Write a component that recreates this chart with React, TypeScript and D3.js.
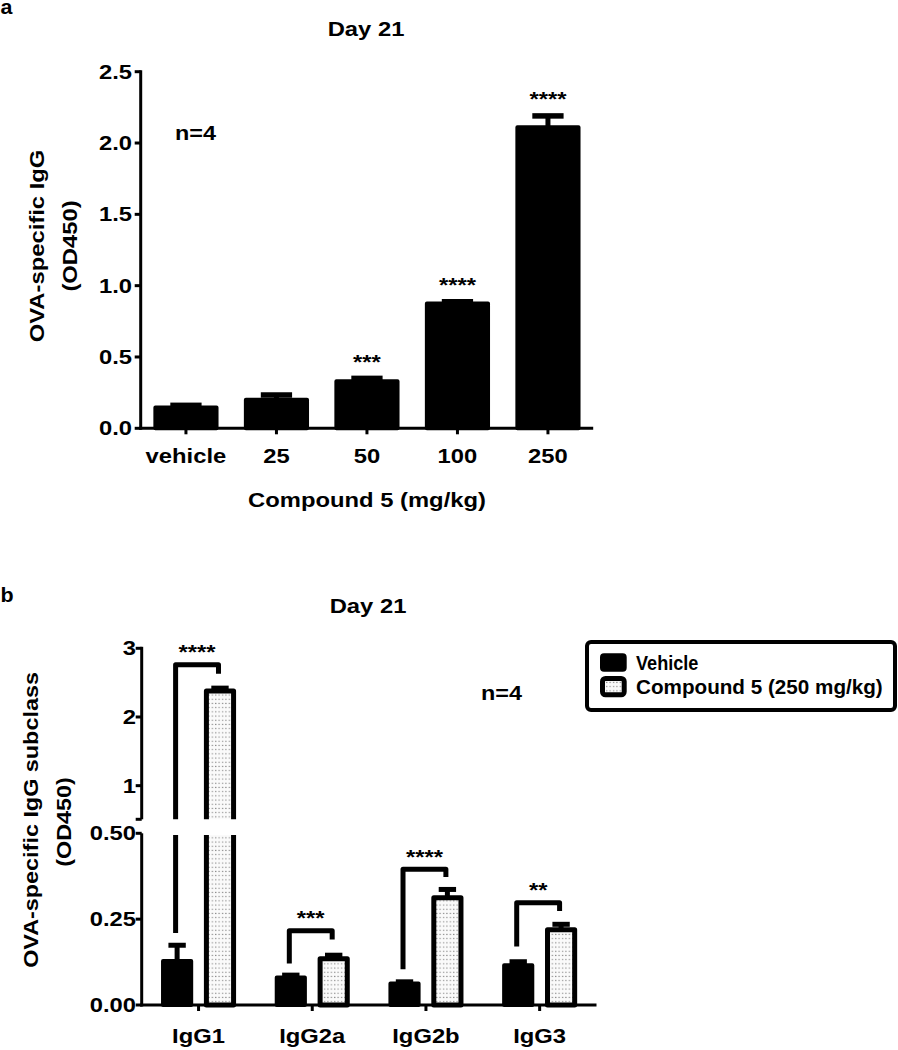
import React from 'react';
import * as d3 from 'd3';

// ---------- Panel a data ----------
const doseCategories = ['vehicle', '25', '50', '100', '250'];
const doseMeans = [0.145, 0.2, 0.33, 0.875, 2.11];
const doseErrors = [0.016, 0.033, 0.02, 0.012, 0.08];
const doseStars = ['', '', '***', '****', '****'];
const doseTicks = [0, 0.5, 1.0, 1.5, 2.0, 2.5];

// ---------- Panel b data ----------
const subclassCategories = ['IgG1', 'IgG2a', 'IgG2b', 'IgG3'];
const seriesNames = ['Vehicle', 'Compound 5 (250 mg/kg)'];
const vehicleMeans = [0.128, 0.08, 0.0625, 0.116];
const vehicleErrors = [0.046, 0.007, 0.005, 0.01];
const compoundMeans = [2.38, 0.135, 0.3125, 0.219];
const compoundErrors = [0.04, 0.01, 0.024, 0.016];
const subclassStars = ['****', '***', '****', '**'];
const bracketTops = [2.76, 0.216, 0.395, 0.298];
const bracketLeftEnds = [0.21, 0.121, 0.104, 0.17];
const bracketRightEnds = [2.63, 0.191, 0.373, 0.274];
const upperTicks = [1, 2, 3];
const lowerTicks = [0, 0.25, 0.5];

const FONT = "'Liberation Sans', Arial, Helvetica, sans-serif";
const FS = 19.5;
const SX = 1.22;

function T({ x, y, children, anchor = 'middle', size = FS, sx = SX, rotate = 0, weight = 'bold' }: any) {
  return (
    <text
      transform={`translate(${x},${y}) rotate(${rotate}) scale(${sx},1)`}
      textAnchor={anchor}
      fontSize={size}
      fontWeight={weight}
      fontFamily={FONT}
      fill="#000"
    >
      {children}
    </text>
  );
}

const STAR_OFF = 0.575 * FS; // asterisk visual centre above baseline

export default function App() {
  // ----- panel a scales -----
  const ya = d3.scaleLinear().domain([0, 2.5]).range([428.3, 71.7]);
  const xa = d3.scaleBand<string>().domain(doseCategories).range([140.7, 593.2]).paddingInner(0.28).paddingOuter(0.14);
  const bwa = xa.bandwidth();
  const axA = 140.7;

  // ----- panel b scales -----
  const yLow = d3.scaleLinear().domain([0, 0.5]).range([1005, 833.3]);
  const yUp = d3.scaleLinear().domain([0.5, 3]).range([820, 648.3]);
  const yb = (v: number) => (v <= 0.5 ? yLow(v) : yUp(v));
  const xb0 = d3.scaleBand<string>().domain(subclassCategories).range([141.7, 596.5]).paddingInner(0.34).paddingOuter(0.17);
  const xb1 = d3.scaleBand<string>().domain(seriesNames).range([0, xb0.bandwidth()]).paddingInner(0.25);
  const bwb = xb1.bandwidth();
  const axB = 141.7;

  const sw = 4;

  const bMarks = (
    <g>
      {subclassCategories.map((c, i) => {
        const vals = [vehicleMeans[i], compoundMeans[i]];
        const errs = [vehicleErrors[i], compoundErrors[i]];
        return (
          <g key={c}>
            {seriesNames.map((s, j) => {
              const x = (xb0(c) as number) + (xb1(s) as number);
              const cx = x + bwb / 2;
              const top = yb(vals[j]);
              const etop = yb(vals[j] + errs[j]);
              const isVeh = j === 0;
              const bsw = isVeh ? sw : 5;
              return (
                <g key={s}>
                  <line x1={cx} x2={cx} y1={top} y2={etop} stroke="#000" strokeWidth={5} />
                  <line x1={cx - bwb * 0.27} x2={cx + bwb * 0.27} y1={etop} y2={etop} stroke="#000" strokeWidth={5} />
                  <rect
                    x={x + bsw / 2}
                    y={top}
                    width={bwb - bsw}
                    height={yLow(0) - top}
                    fill={isVeh ? '#000' : 'url(#dots)'}
                    stroke="#000"
                    strokeWidth={bsw}
                    strokeLinejoin="round"
                  />
                </g>
              );
            })}
          </g>
        );
      })}
      {subclassCategories.map((c, i) => {
        const xl = (xb0(c) as number) + (xb1(seriesNames[0]) as number) + bwb / 2 - 1.5;
        const xr = (xb0(c) as number) + (xb1(seriesNames[1]) as number) + bwb / 2 - 1.5;
        const d = `M${xl},${yb(bracketLeftEnds[i])}V${yb(bracketTops[i])}H${xr}V${yb(bracketRightEnds[i])}`;
        return <path key={c} d={d} fill="none" stroke="#000" strokeWidth={5} strokeLinejoin="round" />;
      })}
    </g>
  );

  return (
    <svg width={898} height={1050} style={{ position: 'absolute', left: 0, top: 0, background: '#fff' }}>
      <defs>
        <pattern id="dots" width={3.4} height={4.2} patternUnits="userSpaceOnUse">
          <rect width={3.4} height={4.2} fill="#fafafa" />
          <rect x={1} y={1.5} width={1.1} height={1.1} fill="#777" />
        </pattern>
        <clipPath id="clipUp">
          <rect x={0} y={0} width={898} height={819.3} />
        </clipPath>
        <clipPath id="clipLow">
          <rect x={0} y={835} width={898} height={215} />
        </clipPath>
      </defs>
      <rect width={898} height={1050} fill="#fff" />

      {/* ================= Panel a ================= */}
      <T x={0.5} y={13.5} anchor="start" sx={1.1}>a</T>
      <T x={366} y={35.7}>Day 21</T>
      <T x={175} y={140} anchor="start" sx={1.2}>n=4</T>

      {/* y axis */}
      <line x1={axA} x2={axA} y1={ya(2.5) - 1.5} y2={ya(0) + 1.5} stroke="#000" strokeWidth={3} />
      {doseTicks.map((t) => (
        <g key={t}>
          <line x1={axA - 6} x2={axA} y1={ya(t)} y2={ya(t)} stroke="#000" strokeWidth={3} />
          <T x={132} y={ya(t) + 7} anchor="end">{d3.format('.1f')(t)}</T>
        </g>
      ))}
      {/* y title */}
      <T x={44} y={246} rotate={-90}>OVA-specific IgG</T>
      <T x={77} y={246} rotate={-90}>(OD450)</T>

      {/* bars */}
      {doseCategories.map((c, i) => {
        const x = xa(c) as number;
        const cx = x + bwa / 2;
        const top = ya(doseMeans[i]);
        const etop = ya(doseMeans[i] + doseErrors[i]);
        return (
          <g key={c}>
            <line x1={cx} x2={cx} y1={top} y2={etop} stroke="#000" strokeWidth={5} />
            <line x1={cx - bwa * 0.24} x2={cx + bwa * 0.24} y1={etop} y2={etop} stroke="#000" strokeWidth={5.5} />
            <rect
              x={x + sw / 2}
              y={top}
              width={bwa - sw}
              height={ya(0) - top}
              fill="#000"
              stroke="#000"
              strokeWidth={sw}
              strokeLinejoin="round"
            />
            {doseStars[i] && (
              <T x={cx} y={etop - 21 + STAR_OFF}>{doseStars[i]}</T>
            )}
          </g>
        );
      })}

      {/* x axis */}
      <line x1={axA - 1.5} x2={593.2} y1={ya(0)} y2={ya(0)} stroke="#000" strokeWidth={3} />
      {doseCategories.map((c) => {
        const cx = (xa(c) as number) + bwa / 2;
        return (
          <g key={c}>
            <line x1={cx} x2={cx} y1={ya(0)} y2={ya(0) + 6} stroke="#000" strokeWidth={3} />
            <T x={cx} y={463.3}>{c}</T>
          </g>
        );
      })}
      <T x={367} y={507}>Compound 5 (mg/kg)</T>

      {/* ================= Panel b ================= */}
      <T x={0.5} y={601.7} anchor="start" sx={1.1}>b</T>
      <T x={368} y={612.5}>Day 21</T>
      <T x={481} y={700} anchor="start" sx={1.2}>n=4</T>

      {/* y axis, broken */}
      <line x1={axB} x2={axB} y1={yUp(3) - 1.5} y2={819.3} stroke="#000" strokeWidth={3} />
      <line x1={axB - 6} x2={axB} y1={819.3} y2={819.3} stroke="#000" strokeWidth={3} />
      {upperTicks.map((t) => (
        <g key={'u' + t}>
          <line x1={axB - 6} x2={axB} y1={yUp(t)} y2={yUp(t)} stroke="#000" strokeWidth={3} />
          <T x={136} y={yUp(t) + 7} anchor="end">{d3.format('d')(t)}</T>
        </g>
      ))}
      <line x1={axB} x2={axB} y1={yLow(0.5)} y2={yLow(0) + 1.5} stroke="#000" strokeWidth={3} />
      {lowerTicks.map((t) => (
        <g key={'l' + t}>
          <line x1={axB - 6} x2={axB} y1={yLow(t)} y2={yLow(t)} stroke="#000" strokeWidth={3} />
          <T x={136} y={yLow(t) + 7} anchor="end">{d3.format('.2f')(t)}</T>
        </g>
      ))}
      <T x={38} y={820} rotate={-90} sx={1.2}>OVA-specific IgG subclass</T>
      <T x={71} y={822} rotate={-90} sx={1.2}>(OD450)</T>

      {/* bars, error bars, brackets (clipped around the axis break) */}
      <g clipPath="url(#clipUp)">{bMarks}</g>
      <g clipPath="url(#clipLow)">{bMarks}</g>

      {subclassCategories.map((c, i) => {
        const xl = (xb0(c) as number) + (xb1(seriesNames[0]) as number) + bwb / 2;
        const xr = (xb0(c) as number) + (xb1(seriesNames[1]) as number) + bwb / 2;
        return (
          <T key={c} x={(xl + xr) / 2 - 1.5} y={yb(bracketTops[i]) - 17 + STAR_OFF}>
            {subclassStars[i]}
          </T>
        );
      })}

      {/* x axis */}
      <line x1={axB - 1.5} x2={596.5} y1={yLow(0)} y2={yLow(0)} stroke="#000" strokeWidth={3} />
      {subclassCategories.map((c) => {
        const cx = (xb0(c) as number) + xb0.bandwidth() / 2;
        return (
          <g key={c}>
            <line x1={cx} x2={cx} y1={yLow(0)} y2={yLow(0) + 6} stroke="#000" strokeWidth={3} />
            <T x={cx} y={1043}>{c}</T>
          </g>
        );
      })}

      {/* legend */}
      <rect x={587} y={642} width={308} height={68} rx={4} fill="#fff" stroke="#000" strokeWidth={4} />
      <rect x={601} y={654.3} width={24.7} height={16.4} rx={3} fill="#000" stroke="#000" strokeWidth={2} />
      <rect x={602.5} y={678.5} width={21.7} height={16.3} rx={3} fill="url(#dots)" stroke="#000" strokeWidth={5} />
      <T x={636} y={670} anchor="start" sx={0.93}>{seriesNames[0]}</T>
      <T x={636} y={694} anchor="start" sx={1.06}>{seriesNames[1]}</T>
    </svg>
  );
}
